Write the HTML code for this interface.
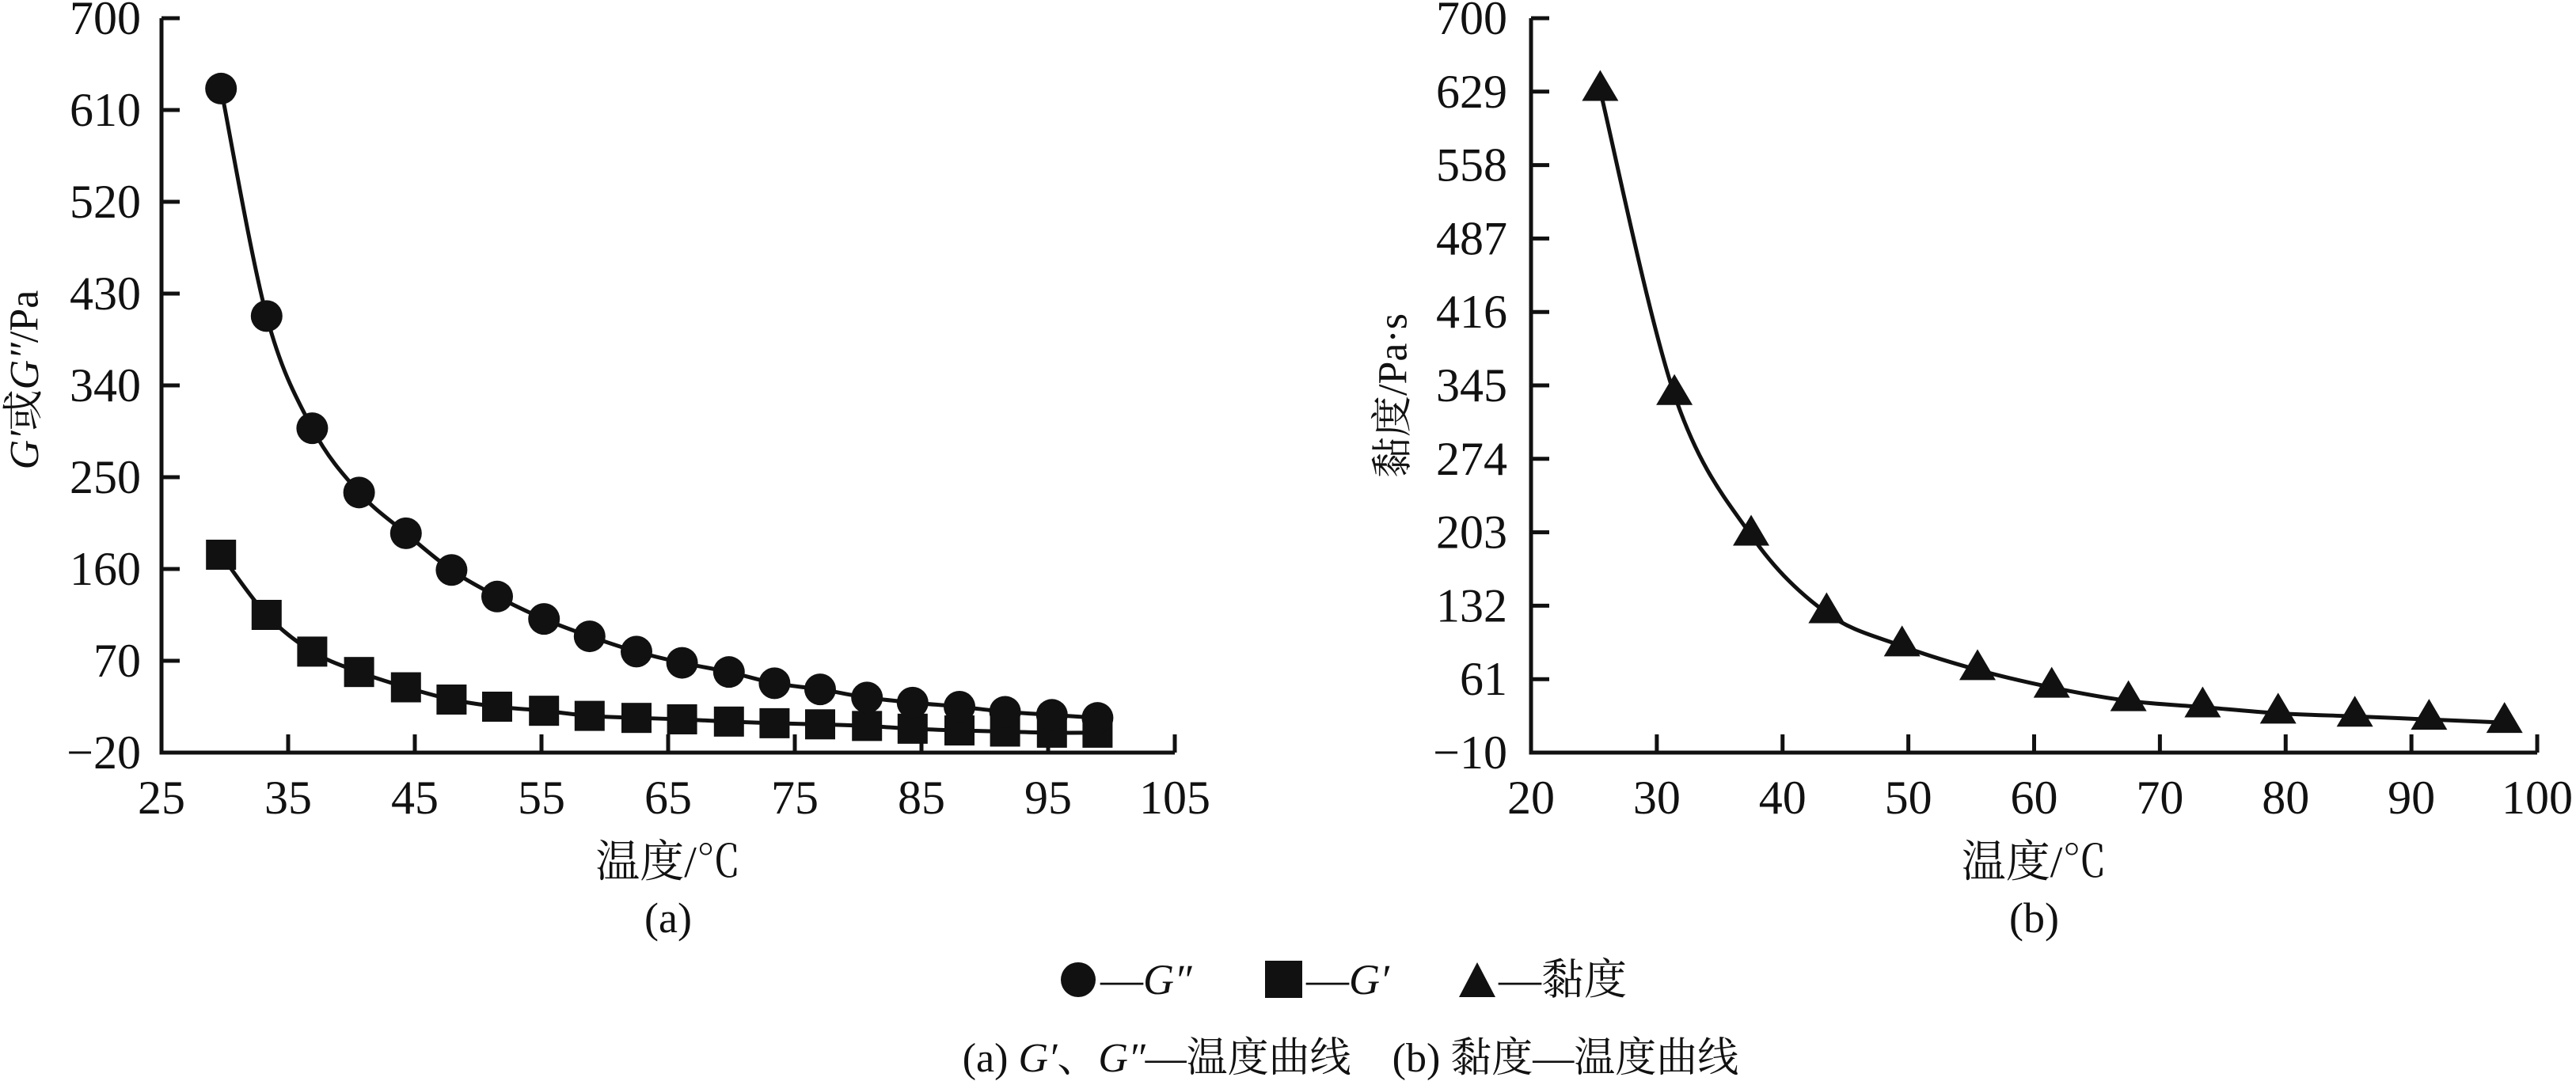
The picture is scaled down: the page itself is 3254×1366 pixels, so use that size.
<!DOCTYPE html>
<html><head><meta charset="utf-8"><style>
html,body{margin:0;padding:0;background:#fff;}
svg{display:block;}
text{font-family:"Liberation Serif","Noto Serif CJK SC",serif;fill:#111;}
</style></head><body>
<svg id="c" width="3254" height="1366" viewBox="0 0 3254 1366" xmlns="http://www.w3.org/2000/svg">
<g id="pa"></g>
<g id="pb"></g>
<g>
 <circle cx="1362" cy="1238" r="22" fill="#111"/>
 <text x="1390" y="1256" font-size="54">—<tspan font-style="italic">G″</tspan></text>
 <rect x="1598" y="1214" width="47" height="47" fill="#111"/>
 <text x="1650" y="1256" font-size="54">—<tspan font-style="italic">G′</tspan></text>
 <polygon points="1866,1216 1843,1260 1889,1260" fill="#111"/>
 <text x="1893" y="1256" font-size="54">—黏度</text>
</g>
<text x="1706" y="1354" font-size="52" text-anchor="middle">(a) <tspan font-style="italic">G′</tspan>、<tspan font-style="italic">G″</tspan>—温度曲线　(b) 黏度—温度曲线</text>
</svg>
<script>
const aTicksX=[25,35,45,55,65,75,85,95,105];
const aTicksY=[-20,70,160,250,340,430,520,610,700];
const aX=[29.7,33.3,36.9,40.6,44.3,47.9,51.5,55.2,58.8,62.5,66.1,69.8,73.4,77.0,80.7,84.3,88.0,91.6,95.3,98.9];
const aGpp=[631,408,298,235,195,159,133,111,94,79,68,59,48,42,34,29,25,20,17,14];
const aGp=[174,115,79,59,44,32,25,21,16,14,12.6,10.4,8.8,7.7,6.1,3.4,1.7,0.6,-0.5,-0.5];
const bTicksX=[20,30,40,50,60,70,80,90,100];
const bTicksY=[-10,61,132,203,274,345,416,487,558,629,700];
const bX=[25.5,31.4,37.5,43.5,49.5,55.5,61.4,67.5,73.4,79.4,85.5,91.4,97.4];
const bV=[630,336,200,125,93,70,53,40,34,28,25,22,19];
const NS='http://www.w3.org/2000/svg';
function mk(p,tag,at){const e=document.createElementNS(NS,tag);for(const k in at)e.setAttribute(k,at[k]);p.appendChild(e);return e;}
function spline(pts){let d='M'+pts[0][0]+','+pts[0][1];for(let i=0;i<pts.length-1;i++){const p0=pts[Math.max(i-1,0)],p1=pts[i],p2=pts[i+1],p3=pts[Math.min(i+2,pts.length-1)];const t=6;d+=' C'+(p1[0]+(p2[0]-p0[0])/t)+','+(p1[1]+(p2[1]-p0[1])/t)+' '+(p2[0]-(p3[0]-p1[0])/t)+','+(p2[1]-(p3[1]-p1[1])/t)+' '+p2[0]+','+p2[1];}return d;}
function axes(g,x0,x1,y0,y1,tx,ty,sx,sy,labRight,ytitle,ytx,ytitleY,xt,sub){
  for(const v of ty){const y=sy(v);
    if(v!==ty[0]){const t=mk(g,'line',{x1:x0,y1:y,x2:x0+23,y2:y,stroke:'#111','stroke-width':5});}
    const l=mk(g,'text',{x:labRight,y:y+20,'font-size':60,'text-anchor':'end'});l.textContent=v<0?'−'+(-v):v;}
  for(const v of tx){const x=sx(v);
    if(v!==tx[0]){const t=mk(g,'line',{x1:x,y1:y0,x2:x,y2:y0-23,stroke:'#111','stroke-width':5});}
    const l=mk(g,'text',{x:x,y:y0+77,'font-size':60,'text-anchor':'middle'});l.textContent=v;}
  const ax=mk(g,'path',{d:'M'+x0+','+y1+' L'+x0+','+y0+' L'+x1+','+y0,fill:'none',stroke:'#111','stroke-width':5});
  
  const yt=mk(g,'text',{x:ytx,y:ytitleY,'font-size':52,'text-anchor':'middle',transform:'rotate(-90 '+ytx+' '+ytitleY+')','dominant-baseline':'central'});yt.innerHTML=ytitle;
  
  const xtt=mk(g,'text',{x:(x0+x1)/2,y:1108,'font-size':56,'text-anchor':'middle'});xtt.textContent='温度/℃';
  
  const st=mk(g,'text',{x:(x0+x1)/2,y:1178,'font-size':54,'text-anchor':'middle'});st.textContent=sub;
  
}
// chart a
const ga=document.getElementById('pa');
const axL=204,axR=1484,yT=23,yB=951;
const sxA=v=>axL+(v-25)/80*(axR-axL), syA=v=>yB-(v+20)/720*(yB-yT);
axes(ga,axL,axR,yB,yT,aTicksX,aTicksY,sxA,syA,178,'<tspan font-style="italic">G′</tspan>或<tspan font-style="italic">G″</tspan>/Pa',31,480,'','(a)');
function series(g,xs,ys,sx,sy,name,marker){
  const pts=xs.map((x,i)=>[sx(x),sy(ys[i])]);
  const p=mk(g,'path',{d:spline(pts),fill:'none',stroke:'#111','stroke-width':5});
  
  pts.forEach(([x,y])=>{let m;
    if(marker==='c')m=mk(g,'circle',{cx:x,cy:y,r:20,fill:'#111'});
    else if(marker==='s')m=mk(g,'rect',{x:x-19,y:y-19,width:38,height:38,fill:'#111'});
    else m=mk(g,'polygon',{points:(x)+','+(y-26)+' '+(x-23)+','+(y+13)+' '+(x+23)+','+(y+13),fill:'#111'});
    });
}
series(ga,aX,aGp,sxA,syA,'g-prime','s');
series(ga,aX,aGpp,sxA,syA,'g-double-prime','c');
// chart b
const gb=document.getElementById('pb');
const bL=1934,bR=3205;
const sxB=v=>bL+(v-20)/80*(bR-bL), syB=v=>yB-(v+10)/710*(yB-yT);
axes(gb,bL,bR,yB,yT,bTicksX,bTicksY,sxB,syB,1904,'黏度/Pa·s',1760,500,'','(b)');
series(gb,bX,bV,sxB,syB,'viscosity','t');
</script>
</body></html>
